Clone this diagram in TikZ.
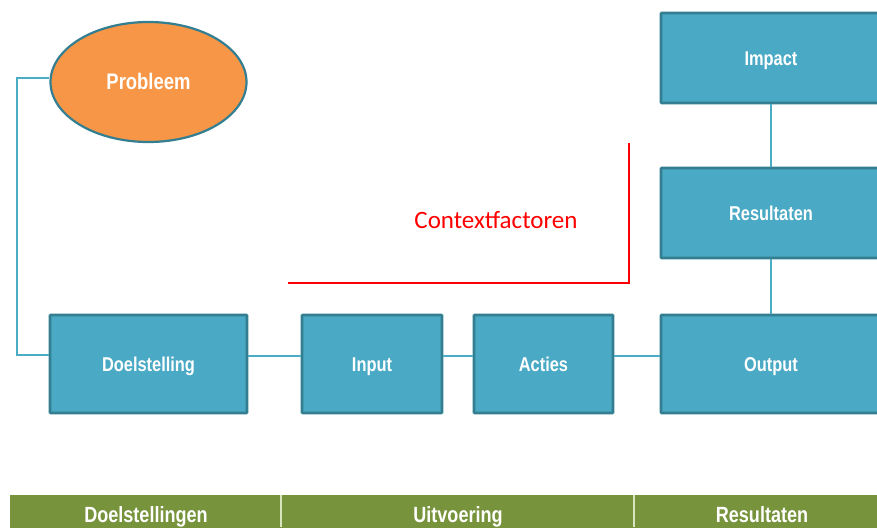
\documentclass[tikz,border=0pt]{standalone}
\usepackage{fontspec}
\usetikzlibrary{shapes.geometric}
\newfontfamily\boxfont{Liberation Sans}[FakeStretch=0.82]
\newfontfamily\ctxfont{Carlito}
\definecolor{boxfill}{HTML}{4AA9C4}
\definecolor{boxline}{HTML}{347E91}
\definecolor{linkblue}{HTML}{4BACC6}
\definecolor{barfill}{HTML}{77933C}
\definecolor{bardiv}{HTML}{D7E4BD}
\definecolor{probfill}{HTML}{F79646}
\definecolor{ctxred}{HTML}{FF0000}
\tikzset{
  stepbox/.style={draw=boxline, fill=boxfill, line width=2.8pt, rounded corners=0.8pt,
    inner sep=0pt, text=white, text height=16pt, text depth=1.6pt,
    font=\boxfont\bfseries\fontsize{20}{24}\selectfont},
  link/.style={draw=linkblue, line width=1.8pt},
  barlabel/.style={text=white, font=\boxfont\bfseries\fontsize{22}{26}\selectfont, anchor=base}
}
\begin{document}
\begin{tikzpicture}[x=1pt,y=-1pt]
\useasboundingbox (0,0) rectangle (877,527);
\clip (0,0) rectangle (877,527);

% problem ellipse
\node[ellipse, draw=boxline, fill=probfill, line width=2.2pt, minimum width=196pt,
  minimum height=120pt, inner sep=0pt, text=white, text height=17pt, text depth=1.4pt,
  font=\boxfont\bfseries\fontsize{22.5}{26}\selectfont] (P) at (148.5,82) {Probleem};

% chain of boxes
\node[stepbox, minimum width=197pt, minimum height=98pt] (D) at (148.5,364) {Doelstelling};
\node[stepbox, minimum width=140pt, minimum height=98pt] (I) at (372,364) {Input};
\node[stepbox, minimum width=139pt, minimum height=98pt] (A) at (543.5,364) {Acties};
\node[stepbox, minimum width=220pt, minimum height=98pt] (O) at (771,364) {Output};
\node[stepbox, minimum width=220pt, minimum height=90pt] (R) at (771,213) {Resultaten};
\node[stepbox, minimum width=220pt, minimum height=90pt] (Im) at (771,58) {Impact};

% connectors
\coordinate (kt) at (17,78);
\coordinate (kb) at (17,355);
\coordinate (row) at (0,356);
\draw[link] (P.west |- kt) -- (kt) -- (kb) -- (kb -| D.west);
\draw[link] (D.east |- row) -- (I.west |- row);
\draw[link] (I.east |- row) -- (A.west |- row);
\draw[link] (A.east |- row) -- (O.west |- row);
\draw[link] (Im.south) -- (R.north);
\draw[link] (R.south) -- (O.north);

% context factors
\coordinate (c1) at (288,283);
\coordinate (c2) at (629,283);
\coordinate (c3) at (629,143);
\draw[ctxred, line width=2.6pt] (c1) -- (c2) -- (c3);
\node[text=ctxred, font=\ctxfont\fontsize{25}{30}\selectfont, anchor=base] (ctx) at (496,228) {Contextfactoren};

% phase bar
\fill[barfill] (10,495) rectangle (900,540);
\draw[bardiv, line width=1.2pt] (281,495) -- (281,527);
\draw[bardiv, line width=1.2pt] (634,495) -- (634,527);
\node[barlabel] (b1) at (146,522) {Doelstellingen};
\node[barlabel] (b2) at (458,522) {Uitvoering};
\node[barlabel] (b3) at (762,522) {Resultaten};
\end{tikzpicture}
\end{document}
